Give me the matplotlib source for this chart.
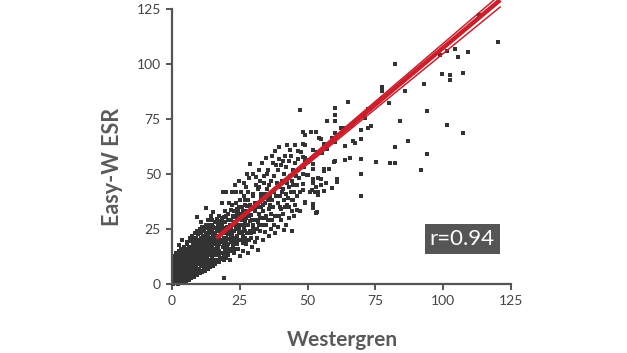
import matplotlib
matplotlib.use("Agg")
import matplotlib.pyplot as plt
import numpy as np

plt.rcParams['font.family'] = ['Lato', 'DejaVu Sans']

# (Westergren, Easy-W) pairs
core_pts = [
    (0.3, 0), (0.3, 1.5), (0.4, 3), (0.3, 4.5), (0.5, 6), (0.4, 8), (0.6, 10), (0.5, 12.5),
    (1.2, 0.5), (1.1, 2), (1.3, 3.5), (1.2, 5), (1.4, 7), (1.1, 9), (1.3, 11), (1.5, 14),
    (2.1, 0), (2.3, 1.5), (2.2, 3), (2.0, 4.5), (2.4, 6), (2.2, 8), (2.5, 10), (2.3, 12), (2.6, 15),
    (3.1, 1), (3.3, 2.5), (3.0, 4), (3.4, 5.5), (3.2, 7), (3.1, 9), (3.5, 11), (3.3, 13), (3.4, 16), (3.7, 20.2),
    (4.2, 0.5), (4.1, 2), (4.4, 3.5), (4.0, 5), (4.3, 6.5), (4.2, 8), (4.5, 10), (4.1, 12), (4.4, 14), (4.6, 17),
    (5.1, 1), (5.3, 3), (5.0, 4.5), (5.4, 6), (5.2, 8), (5.5, 10), (5.1, 12), (5.3, 14), (5.6, 16), (5.4, 19),
    (6.2, 2), (6.0, 3.5), (6.4, 5), (6.1, 7), (6.3, 9), (6.0, 11), (6.5, 13), (6.2, 15), (6.4, 17), (6.6, 21),
    (7.1, 2.5), (7.3, 4), (7.0, 6), (7.4, 8), (7.2, 10), (7.5, 12), (7.1, 14), (7.3, 16), (7.6, 18), (7.2, 22),
    (8.2, 3), (8.0, 5), (8.4, 7), (8.1, 9), (8.3, 11), (8.0, 13), (8.5, 15), (8.2, 17), (8.6, 19), (8.4, 23),
    (9.1, 4), (9.3, 6), (9.0, 8), (9.4, 10), (9.2, 12), (9.5, 14), (9.1, 16), (9.3, 18), (9.6, 20), (9.2, 24), (9.3, 30.5),
    (10.2, 5), (10.0, 7), (10.4, 9), (10.1, 11), (10.3, 13), (10.0, 15), (10.5, 17), (10.2, 19), (10.6, 21), (10.4, 25), (10.8, 28),
    (11.1, 5.5), (11.3, 8), (11.0, 10), (11.4, 12), (11.2, 14), (11.5, 16), (11.1, 18), (11.3, 20), (11.6, 22), (11.2, 26),
    (12.2, 6), (12.0, 8.5), (12.4, 11), (12.1, 13), (12.3, 15), (12.0, 17), (12.5, 19), (12.2, 21), (12.6, 23), (12.4, 27), (12.6, 34.7),
    (13.1, 7), (13.3, 9), (13.0, 12), (13.4, 14), (13.2, 16), (13.5, 18), (13.1, 20), (13.3, 22), (13.6, 25), (13.2, 29),
    (14.2, 7.5), (14.0, 10), (14.4, 13), (14.1, 15), (14.3, 17), (14.0, 19), (14.5, 21), (14.2, 24), (14.6, 27), (14.4, 31),
    (15.1, 8), (15.3, 11), (15.0, 14), (15.4, 16), (15.2, 18), (15.5, 20), (15.1, 22), (15.3, 26), (15.1, 32.5),
]

core_fill_pts = [
    (0.8, 0.7), (0.8, 2.2), (0.8, 3.8), (0.8, 5.3), (0.8, 7), (0.8, 9), (0.8, 11),
    (1.7, 1), (1.7, 2.8), (1.7, 4.2), (1.7, 6), (1.7, 8), (1.7, 10), (1.7, 12.5),
    (2.7, 0.5), (2.7, 2.2), (2.7, 3.6), (2.7, 5.2), (2.7, 7), (2.7, 9), (2.7, 11), (2.7, 13.5), (2.7, 17.5),
    (3.7, 1.5), (3.7, 3.2), (3.7, 4.8), (3.7, 6.2), (3.7, 8), (3.7, 10), (3.7, 12), (3.7, 14.5),
    (4.7, 0.8), (4.7, 2.5), (4.7, 4), (4.7, 5.6), (4.7, 7.2), (4.7, 9), (4.7, 11), (4.7, 13), (4.7, 15.5),
    (5.7, 1.8), (5.7, 3.8), (5.7, 5.2), (5.7, 7), (5.7, 9), (5.7, 11), (5.7, 13), (5.7, 15), (5.7, 18),
    (6.7, 2.8), (6.7, 4.5), (6.7, 6.2), (6.7, 8), (6.7, 10), (6.7, 12), (6.7, 14), (6.7, 16), (6.7, 19.5),
    (7.7, 3.5), (7.7, 5), (7.7, 7), (7.7, 9), (7.7, 11), (7.7, 13), (7.7, 15), (7.7, 17), (7.7, 20),
    (8.7, 4), (8.7, 6), (8.7, 8), (8.7, 10), (8.7, 12), (8.7, 14), (8.7, 16), (8.7, 18), (8.7, 21),
    (9.7, 5), (9.7, 7), (9.7, 9), (9.7, 11), (9.7, 13), (9.7, 15), (9.7, 17), (9.7, 19), (9.7, 22.5),
    (10.7, 6), (10.7, 8), (10.7, 10), (10.7, 12), (10.7, 14), (10.7, 16), (10.7, 18), (10.7, 20), (10.7, 23),
    (11.7, 7), (11.7, 9), (11.7, 11), (11.7, 13), (11.7, 15), (11.7, 17), (11.7, 19), (11.7, 21), (11.7, 24),
    (12.7, 7.5), (12.7, 10), (12.7, 12), (12.7, 14), (12.7, 16), (12.7, 18), (12.7, 20), (12.7, 22), (12.7, 25.5),
    (13.7, 8.5), (13.7, 11), (13.7, 13), (13.7, 15), (13.7, 17), (13.7, 19), (13.7, 21), (13.7, 23), (13.7, 27),
    (14.7, 9), (14.7, 12), (14.7, 15), (14.7, 17), (14.7, 19), (14.7, 21), (14.7, 23), (14.7, 25), (14.7, 29),
]

edge_pts = [
    (15.9, 10.5), (15.9, 13), (15.9, 15.5), (15.9, 18), (15.9, 20.5), (15.9, 23), (15.9, 25.5), (15.9, 28),
    (16.7, 11), (16.7, 14.5), (16.7, 19), (16.7, 22), (16.7, 24.5), (16.7, 29.5),
    (17.5, 10), (17.5, 13), (17.5, 18), (17.5, 21), (17.5, 26), (17.5, 28.5),
    (18.3, 11.5), (18.3, 14), (18.3, 19), (18.3, 24), (18.3, 27), (18.3, 30),
    (19.1, 13), (19.1, 17.5), (19.1, 23), (19.1, 25.5), (19.1, 30.5),
    (19.9, 12), (19.9, 15.5), (19.9, 21), (19.9, 25), (19.9, 31),
    (20.8, 14), (20.8, 18), (20.8, 22.5), (20.8, 26), (20.8, 32),
    (21.8, 15), (21.8, 21.5), (21.8, 25.5), (21.8, 29),
    (22.8, 16), (22.8, 19.5), (22.8, 24), (22.8, 30.5), (22.8, 33),
    (23.8, 19), (23.8, 27), (23.8, 31.5), (24.8, 20), (24.8, 25), (24.8, 29.5), (24.8, 35),
    (25.8, 23.5), (25.8, 30.5), (26.8, 20), (26.8, 28.5), (26.8, 31.5), (27.8, 23), (27.8, 35.5),
    (28.8, 28.5), (28.8, 36),
]

band_pts = [
    (16.0, 9), (16.5, 13), (17.0, 17), (17.5, 24), (18.0, 28), (18.3, 36.7), (18.8, 41.8), (16.2, 21),
    (17.2, 31), (19.2, 2.7), (19.0, 11), (19.5, 15), (19.8, 19), (20.0, 23), (20.3, 26), (20.0, 41.8),
    (20.8, 29), (21.0, 36.7), (19.5, 33), (20.5, 13), (16.8, 27), (18.5, 20), (17.8, 12),
    (21.5, 10.8), (21.5, 16), (22.0, 20), (22.0, 24), (22.0, 41.8), (22.5, 31), (23.0, 27), (23.0, 14),
    (23.5, 36.7), (23.7, 41.8), (24.0, 18), (24.0, 22), (24.5, 26), (24.5, 33), (25.0, 12.5), (25.0, 38),
    (25.4, 41.8), (25.7, 29), (25.5, 20), (21.8, 33.5), (23.3, 45), (24.6, 47), (22.6, 17.5),
    (26.2, 15), (26.0, 22), (26.3, 27), (26.1, 33), (26.4, 40), (26.6, 46),
    (27.2, 18), (27.0, 24), (27.3, 30), (27.1, 36), (27.4, 44),
    (28.1, 14), (28.3, 20), (28.0, 27), (28.4, 31), (28.2, 38), (28.5, 48),
    (28.8, 54.7), (29.0, 23), (29.1, 34),
    (29.6, 17), (29.8, 25), (29.5, 29), (29.7, 41), (29.9, 50),
    (30.6, 19), (30.4, 23.5), (30.7, 33), (30.5, 37), (30.8, 45),
    (31.8, 15.3), (31.5, 21), (31.7, 28), (31.4, 35), (31.6, 43), (31.9, 52),
    (32.6, 24), (32.4, 30), (32.7, 39), (32.5, 47),
    (33.6, 20), (33.4, 27), (33.7, 33), (33.5, 36), (33.8, 49), (33.3, 55),
    (34.5, 57.1), (34.3, 23.5), (34.6, 31), (34.4, 41),
    (35.6, 22), (35.4, 29), (35.7, 34), (35.5, 38), (35.8, 45), (35.3, 52),
    (36.4, 25), (36.6, 32), (36.3, 40), (36.5, 47), (36.7, 58),
    (37.6, 27), (37.4, 35), (37.7, 42), (37.5, 49), (37.3, 55),
    (37.9, 60.4), (38.0, 23),
    (39.1, 26), (39.3, 31), (39.0, 37), (39.4, 44), (39.2, 52), (39.6, 57), (39.6, 62.2),
    (40.1, 29), (40.3, 34), (40.0, 40), (40.4, 47), (40.2, 54),
    (41.2, 24.5), (41.0, 32), (41.4, 38), (41.1, 43), (41.3, 50), (41.5, 58),
    (42.1, 27), (42.3, 36), (42.0, 41), (42.4, 46), (42.2, 53), (42.3, 63),
    (43.1, 30), (43.3, 35), (43.0, 44), (43.4, 49), (43.2, 56), (43.5, 61),
    (44.2, 23.9), (44.4, 33), (44.1, 38), (44.3, 47), (44.5, 52), (44.7, 38),
    (45.1, 31), (45.3, 36), (45.0, 42), (45.4, 50), (45.2, 55), (45.5, 63),
    (46.0, 33.5), (46.2, 40), (46.1, 45), (46.3, 57),
    (47.2, 33.1), (47.2, 79.3), (47.0, 48), (47.4, 60), (47.2, 41.6),
]

band_fill_pts = [
    (16.5, 17.5), (17, 20), (17.5, 15), (18, 22.5), (18.5, 25), (18.8, 17), (19.3, 21), (19.6, 28),
    (20.2, 17), (20.6, 20.5), (21, 24), (21.3, 27), (21.7, 19), (22.3, 22.5), (22.7, 28), (23.2, 21),
    (23.6, 25), (24, 30), (24.3, 16), (24.8, 23), (25.2, 27), (25.6, 32), (26, 18.5), (26.5, 25),
    (27, 21), (27.6, 27), (27.8, 33), (28.6, 24), (29, 31.5), (29.3, 21), (30, 27), (30.2, 35),
    (30.9, 29), (31.2, 25), (31.9, 32), (32.2, 27), (32.9, 35), (33, 41), (33.9, 30), (34.2, 37),
    (34.8, 27), (35, 43), (36, 36), (36.9, 29), (37, 38), (38, 31), (38.3, 40), (38.6, 46),
    (39.8, 35), (40.6, 42), (41.8, 35), (42.6, 39), (43.8, 42), (44.8, 45), (45.8, 49), (46.6, 52),
    (30, 40), (32, 44), (34, 46), (26.8, 38), (28, 42), (25.8, 35), (23.8, 34), (22.2, 36),
    (27.5, 50), (31, 48.5), (35, 50), (38.5, 54), (40.8, 56), (44, 58), (46.5, 60.5),
]

upper_pts = [
    (48.2, 69.3), (49.2, 67.5), (48.2, 63.7), (49.2, 63), (51.3, 69.3), (53.1, 69), (54.1, 66.4),
    (55, 66.1), (56, 63.7), (57, 74), (59, 66.4), (60, 68.5), (60, 64.5), (60, 80), (60, 77), (60, 74),
    (62.4, 71.1), (63.2, 70.8), (63.8, 62.5), (64.9, 82.6), (65.9, 71.7), (66.7, 64.8), (67.6, 64.2),
    (69.7, 70.2), (69.7, 66), (70.8, 76.2), (71.3, 75.5), (72.3, 79.6), (72.3, 71.1), (73.3, 71.9),
    (77.3, 89.7), (77.3, 87.9), (77.3, 84.4), (80.1, 82.3), (82.2, 100.1), (82.2, 62.2), (84.1, 74.1),
    (86, 87.7), (87, 65.1), (92.9, 90.7), (93.9, 78.8), (98.8, 104), (99.4, 95.4), (101.4, 106),
    (101.4, 72.3), (102.4, 94.8), (102.4, 92.7), (104.4, 106.7), (105.3, 103), (107.2, 95.9),
    (107.2, 68.8), (109.3, 105.5), (113.2, 122.3), (120.1, 110.2),
    (93.9, 59), (91.8, 51.8), (80.3, 54.8), (82.2, 54.8), (75.3, 55.3), (69.7, 56.6), (69.7, 50.1),
    (69.7, 40), (65.7, 57.1), (63.9, 56.5), (60.8, 47.6), (60.8, 46.3), (59.9, 55.4), (58.9, 43.6),
    (56.9, 45.9), (55.9, 52.4), (55.9, 51.2), (57.9, 52.2), (55.1, 47.9), (54, 48.3), (54.9, 45.2),
    (55.9, 42.4), (54, 41.8), (54, 40.4), (53, 44.1), (53, 32.3), (52, 34.4), (51, 42), (50, 49.4),
    (49, 56.3), (48.2, 45.3), (49, 37), (48.2, 42.9), (52, 45.9), (52, 52.4), (49.2, 57.4),
    (55.2, 59.5), (60.2, 55.7),
    (48.4, 57.7), (49.4, 56.2), (52.1, 60.7), (53.4, 59.9), (50.3, 55.4), (48.7, 53.1), (52.1, 54.7),
    (48.2, 50.1), (49.7, 49.4), (51.9, 47.9), (48.2, 45.6), (51.5, 42.6), (52.7, 41.8), (49, 37.3),
    (52.1, 36.5), (53.4, 32.7), (57, 61.5),
]

# regression line and its 95% band
fit_x = [16.5, 121]
fit_y = [21.0, 129.1]
ci_hi = [21.3, 131.5]
ci_lo = [20.7, 125.9]

r_text = "r=0.94"
ticks = [0, 25, 50, 75, 100, 125]

all_pts = core_pts + core_fill_pts + edge_pts + band_pts + band_fill_pts + upper_pts
west, easyw = np.array(all_pts).T

axis_grey = '#555555'
red = '#cc1f2b'

fig = plt.figure(figsize=(6.27, 3.53), dpi=100)
ax = fig.add_axes([0.2743, 0.1955, 0.5407, 0.779])

ax.scatter(west, easyw, marker='s', s=10, color='#333333', linewidths=0, zorder=2, clip_on=False)
ax.plot(fit_x, fit_y, color=red, lw=3.2, solid_capstyle='butt', zorder=3, clip_on=False)
ax.plot(fit_x, ci_hi, color=red, lw=1.1, zorder=3, clip_on=False)
ax.plot(fit_x, ci_lo, color=red, lw=1.1, zorder=3, clip_on=False)

ax.set_xlim(0, 125)
ax.set_ylim(0, 125)
ax.set_xticks(ticks)
ax.set_yticks(ticks)
for side in ['top', 'right']:
    ax.spines[side].set_visible(False)
for side in ['left', 'bottom']:
    ax.spines[side].set_color(axis_grey)
    ax.spines[side].set_linewidth(1.6)
ax.tick_params(colors=axis_grey, labelcolor='#444444', labelsize=10, length=4, width=1.4, pad=4)

fig.text(0.546, 0.037, 'Westergren', ha='center', va='center', fontsize=15,
         fontweight='bold', color='#5a5a5a')
fig.text(0.18, 0.527, 'Easy-W ESR', ha='center', va='center', rotation=90,
         fontsize=15.5, fontweight='bold', color='#5a5a5a')

ax.text(107, 20.3, r_text, ha='center', va='center', fontsize=16, color='white',
        bbox=dict(boxstyle='square,pad=0.22', fc='#555555', ec='none'), zorder=4)

fig.savefig('out.png', dpi=100)
